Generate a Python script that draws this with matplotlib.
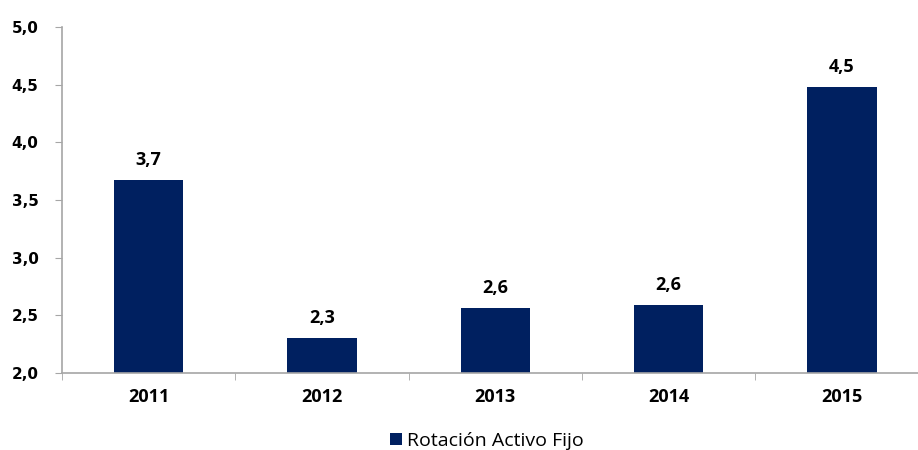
import matplotlib
matplotlib.use("Agg")
import matplotlib.pyplot as plt
from matplotlib.ticker import FixedLocator, NullFormatter

years = ["2011", "2012", "2013", "2014", "2015"]
rotacion = [3.67, 2.30, 2.56, 2.59, 4.48]
y_ticks = [2.0, 2.5, 3.0, 3.5, 4.0, 4.5, 5.0]
series_name = "Rotación Activo Fijo"

navy = "#002060"
axis_gray = "#A6A6A6"

fig = plt.figure(figsize=(9.18, 4.5), dpi=100)
# the category axis runs a little past the right edge of the canvas
ax = fig.add_axes([62 / 918, 1 - 373 / 450, 866.5 / 918, 346 / 450])

x = list(range(len(years)))
bars = ax.bar(x, rotacion, width=0.4, color=navy, zorder=2, label=series_name)

ax.set_ylim(2.0, 5.0)
ax.set_xlim(-0.5, len(years) - 0.5)

ax.set_yticks(y_ticks)
ax.set_yticklabels([f"{v:.1f}".replace(".", ",") for v in y_ticks],
                   fontfamily="DejaVu Sans", fontweight="bold", fontsize=11)

ax.set_xticks(x)
ax.set_xticklabels(years, fontfamily="Open Sans", fontweight="bold", fontsize=13)
ax.xaxis.set_minor_locator(FixedLocator([i + 0.5 for i in range(-1, len(years))]))
ax.xaxis.set_minor_formatter(NullFormatter())
ax.tick_params(axis="x", which="major", length=0, pad=11)
ax.tick_params(axis="x", which="minor", length=5, color=axis_gray, direction="out")
ax.tick_params(axis="y", length=5, color=axis_gray, direction="out", pad=12)

for side in ("top", "right"):
    ax.spines[side].set_visible(False)
for side in ("left", "bottom"):
    ax.spines[side].set_color(axis_gray)
    ax.spines[side].set_linewidth(1.2)

for xi, v in zip(x, rotacion):
    ax.annotate(f"{v:.1f}".replace(".", ","), (xi, v), xytext=(0, 8),
                textcoords="offset points", ha="center", va="bottom",
                fontfamily="Open Sans", fontweight="bold", fontsize=13)

fig.legend(handles=[bars], labels=[series_name], loc="center",
           bbox_to_anchor=(487 / 918, 1 - 441 / 450), frameon=False,
           prop={"family": "Open Sans", "size": 14},
           handlelength=0.6, handleheight=0.6, handletextpad=0.3)

fig.savefig("out.png", dpi=100)
